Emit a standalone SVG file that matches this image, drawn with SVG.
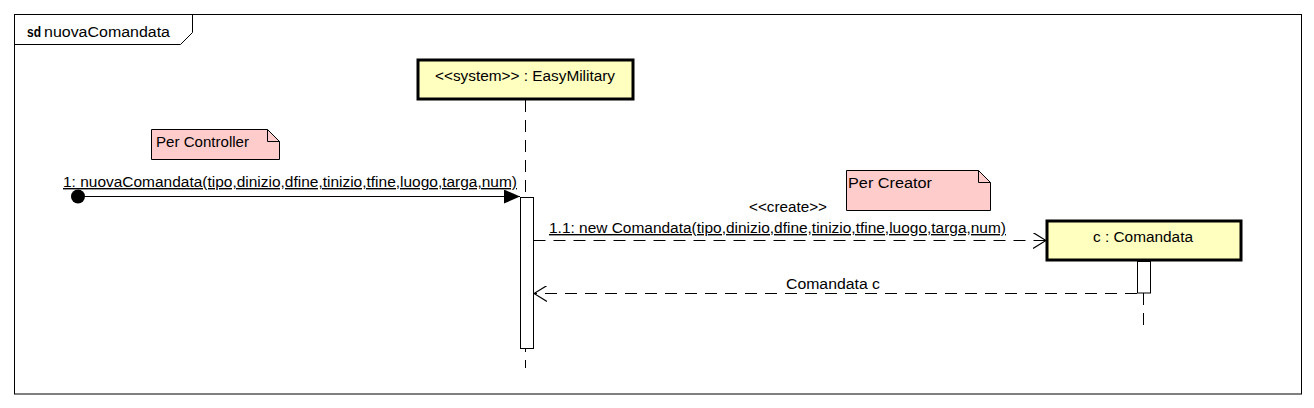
<svg xmlns="http://www.w3.org/2000/svg" width="1314" height="408" viewBox="0 0 1314 408">
<style>
text{font-family:"Liberation Sans",Arial,sans-serif;font-size:14px;fill:#000}
.c{text-anchor:middle}
.u{text-decoration:underline}
.obj{fill:#ffffc0;stroke:#000;stroke-width:3}
.note{fill:#ffcccc;stroke:#000;stroke-width:1}
.act{fill:#fff;stroke:#000;stroke-width:1}
.life{stroke:#000;stroke-width:1;stroke-dasharray:12,8;fill:none}
.msg{stroke:#000;stroke-width:1;fill:none}
.dash{stroke:#000;stroke-width:1;fill:none;stroke-dasharray:12,8}
</style>
<defs>
<marker id="filled" markerWidth="16" markerHeight="14" refX="16" refY="7" orient="auto" markerUnits="userSpaceOnUse"><path d="M0,0 L16,7 L0,14 Z" fill="#000"/></marker>
<marker id="open" markerWidth="14" markerHeight="16" refX="13" refY="8" orient="auto" markerUnits="userSpaceOnUse"><path d="M0,0 L13,8 L0,16" fill="none" stroke="#000" stroke-width="1.2"/></marker>
</defs>
<rect width="1314" height="408" fill="#fff"/>
<g id="frame">
<rect x="14.5" y="14.5" width="1287" height="379.5" fill="none" stroke="#000"/>
<path d="M14.5,44.5 H180.5 L192.5,32.5 V14.5" fill="none" stroke="#000"/>
<text x="27" y="37" font-weight="bold" font-size="13" textLength="14" lengthAdjust="spacingAndGlyphs">sd</text>
<text x="44" y="37" textLength="126" lengthAdjust="spacingAndGlyphs">nuovaComandata</text>
</g>
<g id="lifeline-easymilitary">
<line class="life" x1="525.5" y1="100" x2="525.5" y2="368"/>
<rect class="obj" x="418" y="60" width="215" height="39"/>
<text class="c" x="525" y="81" textLength="180" lengthAdjust="spacingAndGlyphs">&lt;&lt;system&gt;&gt; : EasyMilitary</text>
<rect class="act" x="520.5" y="197.5" width="13" height="151"/>
</g>
<g id="lifeline-comandata">
<line class="life" x1="1143.5" y1="293" x2="1143.5" y2="325"/>
<rect class="obj" x="1047" y="221" width="194" height="39"/>
<text class="c" x="1143" y="242" textLength="100" lengthAdjust="spacingAndGlyphs">c : Comandata</text>
<rect class="act" x="1137.5" y="261.5" width="13" height="31.5"/>
</g>
<g id="note-controller">
<path class="note" d="M151.5,129.5 H267.5 L279.5,141.5 V159.5 H151.5 Z"/>
<path d="M267.5,129.5 V141.5 H279.5" fill="none" stroke="#000"/>
<text x="156" y="147" textLength="93" lengthAdjust="spacingAndGlyphs">Per Controller</text>
</g>
<g id="note-creator">
<path class="note" d="M846.5,170.5 H978.5 L990.5,182.5 V210.5 H846.5 Z"/>
<path d="M978.5,170.5 V182.5 H990.5" fill="none" stroke="#000"/>
<text x="848" y="188" textLength="84" lengthAdjust="spacingAndGlyphs">Per Creator</text>
</g>
<g id="connectors">
<circle cx="78" cy="196.5" r="7" fill="#000"/>
<line class="msg" x1="78" y1="196.5" x2="520" y2="196.5" marker-end="url(#filled)"/>
<text class="u" x="63" y="187" textLength="454" lengthAdjust="spacingAndGlyphs">1: nuovaComandata(tipo,dinizio,dfine,tinizio,tfine,luogo,targa,num)</text>
<line class="dash" x1="533.5" y1="240.5" x2="1046" y2="240.5" marker-end="url(#open)"/>
<text class="c" x="788" y="212" textLength="78" lengthAdjust="spacingAndGlyphs">&lt;&lt;create&gt;&gt;</text>
<text class="u" x="549" y="233" textLength="457" lengthAdjust="spacingAndGlyphs">1.1: new Comandata(tipo,dinizio,dfine,tinizio,tfine,luogo,targa,num)</text>
<line class="dash" x1="1137" y1="293.5" x2="534" y2="293.5" marker-end="url(#open)"/>
<text x="786" y="289" textLength="94" lengthAdjust="spacingAndGlyphs">Comandata c</text>
</g>
</svg>
